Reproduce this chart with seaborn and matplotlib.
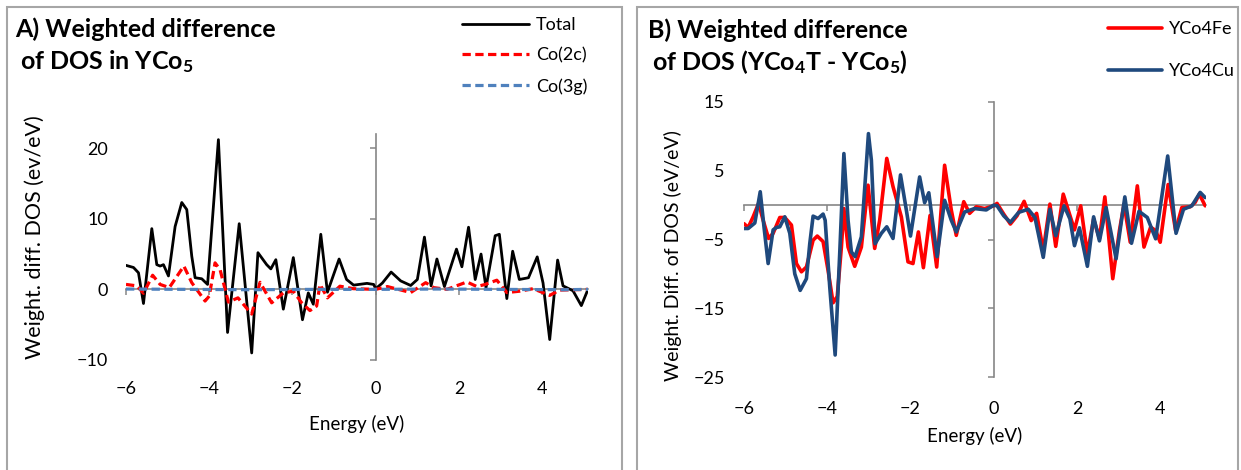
import matplotlib
matplotlib.use("Agg")
import matplotlib.pyplot as plt
from matplotlib.patches import Rectangle
import seaborn as sns

# ---------------- data ----------------
# Panel A : weighted difference of DOS in YCo5
e_total = [-6.00, -5.82, -5.70, -5.58, -5.38, -5.26, -5.18, -5.10, -4.98, -4.82, -4.66, -4.54,
           -4.42, -4.34, -4.18, -4.04, -3.78, -3.56, -3.28, -2.98, -2.83, -2.62, -2.52, -2.40,
           -2.22, -1.98, -1.76, -1.62, -1.50, -1.32, -1.16, -0.88, -0.70, -0.53, -0.21, -0.05,
           0.00, 0.16, 0.37, 0.60, 0.84, 1.00, 1.17, 1.33, 1.47, 1.65, 1.94, 2.07, 2.23, 2.39,
           2.53, 2.65, 2.87, 2.97, 3.15, 3.29, 3.45, 3.67, 3.88, 4.02, 4.18, 4.37, 4.50, 4.74,
           4.94, 5.10]
dos_total = [3.4, 3.1, 2.35, -2.0, 8.6, 3.5, 3.3, 3.5, 1.9, 8.9, 12.3, 11.3,
             4.7, 1.65, 1.5, 0.7, 21.2, -6.1, 9.3, -9.0, 5.2, 3.5, 2.9, 4.2,
             -2.8, 4.5, -4.3, -0.5, -2.1, 7.8, -0.4, 4.3, 1.4, 0.6, 0.85, 0.7,
             0.1, 0.9, 2.45, 1.2, 0.55, 1.4, 7.4, 0.5, 4.3, 0.4, 5.7, 3.2, 8.8, 1.4,
             5.0, 0.25, 7.6, 7.8, -1.3, 5.4, 1.4, 1.65, 4.6, 0.9, -7.1, 4.15, 0.5, -0.2,
             -2.3, 0.0]

e_co2c = [-6.00, -5.74, -5.58, -5.36, -5.18, -4.96, -4.61, -4.42, -4.10, -4.00, -3.86, -3.74,
          -3.54, -3.31, -2.98, -2.78, -2.50, -2.22, -1.98, -1.78, -1.58, -1.42, -1.34, -1.16,
          -0.86, -0.54, 0.00, 0.28, 0.84, 1.20, 1.39, 1.71, 2.19, 2.43, 2.63, 2.91, 3.15,
          3.47, 3.78, 4.18, 4.42, 5.10]
dos_co2c = [0.7, 0.5, -0.55, 2.0, 0.7, 0.25, 3.3, 0.95, -1.65, -0.95, 3.75, 2.8,
            -1.8, -1.2, -3.5, 1.0, -1.9, -0.5, -0.25, -1.9, -3.0, -2.35, 0.7, -1.2,
            0.45, 0.1, 0.0, 0.4, -0.45, 0.95, 0.25, 0.0, 1.05, 0.4, 0.7, 1.3, -0.45,
            -0.25, 0.1, -0.85, -0.1, 0.0]

e_co3g = [-6.0, -4.5, -3.0, -1.5, 0.0, 1.5, 3.0, 4.5, 5.1]
dos_co3g = [0.05, 0.0, -0.05, 0.0, 0.0, 0.05, 0.0, -0.05, 0.0]

# Panel B : weighted difference of DOS (YCo4T - YCo5)
e_fe = [-6.00, -5.90, -5.78, -5.65, -5.54, -5.41, -5.30, -5.14, -5.02, -4.86, -4.74, -4.62,
        -4.50, -4.34, -4.24, -4.10, -3.98, -3.86, -3.76, -3.66, -3.60, -3.50, -3.34, -3.18,
        -3.02, -2.86, -2.74, -2.57, -2.42, -2.22, -2.06, -1.94, -1.81, -1.69, -1.53, -1.37,
        -1.18, -1.02, -0.90, -0.72, -0.58, -0.42, -0.22, 0.00, 0.08, 0.24, 0.40, 0.56,
        0.73, 0.90, 1.03, 1.19, 1.35, 1.49, 1.67, 1.94, 2.09, 2.25, 2.40, 2.54, 2.67,
        2.86, 3.02, 3.13, 3.28, 3.45, 3.61, 3.77, 3.89, 4.00, 4.19, 4.37, 4.52, 4.72,
        4.84, 4.94, 5.08]
dos_fe = [-2.7, -3.25, -1.7, 0.25, -2.2, -4.85, -4.1, -1.8, -1.8, -2.9, -8.5, -9.7,
          -9.0, -5.1, -4.5, -5.3, -9.5, -14.2, -13.3, -6.1, -0.5, -6.1, -8.9, -6.1,
          2.9, -6.3, -2.2, 6.8, 2.7, -1.7, -8.25, -8.5, -3.9, -9.1, -1.5, -9.0,
          5.8, -0.7, -4.4, 0.5, -1.2, -0.25, -0.5, -0.1, 0.25, -1.3, -2.75, -1.55,
          0.55, -2.25, -1.2, -6.6, 0.15, -6.0, 1.6, -3.6, -0.1, -7.1, -2.0, -4.9, 1.2,
          -10.7, -3.7, 0.15, -5.4, 2.8, -6.1, -3.2, -3.7, -5.4, 3.0, -3.7, -0.35, -0.25,
          0.4, 1.6, -0.1]

e_cu = [-6.00, -5.90, -5.74, -5.61, -5.52, -5.42, -5.30, -5.22, -5.14, -5.02, -4.90, -4.78,
        -4.65, -4.50, -4.42, -4.34, -4.22, -4.10, -4.05, -3.94, -3.81, -3.70, -3.60, -3.50,
        -3.42, -3.33, -3.18, -3.01, -2.94, -2.85, -2.70, -2.57, -2.42, -2.24, -2.10, -2.00,
        -1.78, -1.66, -1.56, -1.36, -1.18, -1.02, -0.90, -0.70, -0.46, -0.18, 0.00, 0.08,
        0.24, 0.40, 0.60, 0.83, 0.99, 1.19, 1.35, 1.49, 1.69, 1.83, 1.94, 2.06, 2.25,
        2.40, 2.54, 2.70, 2.94, 3.15, 3.31, 3.49, 3.69, 3.89, 4.18, 4.38, 4.56, 4.76,
        4.96, 5.08]
dos_cu = [-3.4, -3.4, -2.6, 1.95, -3.15, -8.5, -3.6, -3.25, -3.15, -1.7, -4.1, -10.0,
          -12.4, -10.7, -5.6, -1.6, -1.95, -1.3, -2.2, -11.9, -21.8, -7.0, 7.5, -2.2,
          -6.8, -7.5, -4.6, 10.4, 6.55, -5.6, -4.1, -3.15, -4.85, 4.4, -0.7, -4.5,
          4.1, 0.35, 1.8, -7.5, 0.7, -2.2, -3.9, -1.0, -0.5, -0.7, 0.0, -0.1,
          -1.55, -2.5, -1.05, -0.6, -1.8, -7.6, -0.6, -4.45, -0.1, -2.0, -5.9, -3.3, -8.9,
          -1.7, -5.2, -0.35, -7.8, 1.2, -5.55, -0.9, -1.8, -4.9, 7.15, -4.1, -0.6, -0.1,
          1.85, 1.1]

x_ticks = [-6, -4, -2, 0, 2, 4]
yticks_a = [-10, 0, 10, 20]
yticks_b = [-25, -15, -5, 5, 15]

# ---------------- style ----------------
sns.set_theme(style="white")
plt.rcParams["font.family"] = ["Lato", "DejaVu Sans"]
plt.rcParams["mathtext.fontset"] = "custom"
plt.rcParams["mathtext.rm"] = "Lato"
plt.rcParams["mathtext.bf"] = "Lato:bold"
plt.rcParams["mathtext.it"] = "Lato:italic"

W, H = 1241, 470
fig = plt.figure(figsize=(W / 100, H / 100), dpi=100)
fig.patch.set_facecolor("white")

AXC = "#868686"
TKFS = 13     # tick labels
LGFS = 13     # legend
TFS = 18      # panel titles


def px_axes(left, top, right, bottom):
    return fig.add_axes([left / W, 1 - bottom / H, (right - left) / W, (bottom - top) / H])


def excel_axes(ax, ylim, yticks, ypad, xpad):
    ax.set_xlim(-6, 5.1)
    ax.set_ylim(*ylim)
    ax.set_facecolor("none")
    for s in ("top", "right"):
        ax.spines[s].set_visible(False)
    ax.spines["left"].set_position(("data", 0))
    ax.spines["bottom"].set_position(("data", 0))
    for s in ("left", "bottom"):
        ax.spines[s].set_color(AXC)
        ax.spines[s].set_linewidth(1.2)
        ax.spines[s].set_zorder(1)
    ax.set_xticks(x_ticks)
    ax.set_yticks(yticks)
    ax.tick_params(axis="both", direction="out", length=4, width=1.1, color=AXC,
                   labelleft=False, labelbottom=False, left=True, bottom=True)
    # tick labels in the "low" position (Excel style)
    sy = ax.secondary_yaxis("left")
    sy.set_yticks(yticks)
    sy.spines["left"].set_visible(False)
    sy.tick_params(length=0, pad=ypad, labelsize=TKFS, labelcolor="black")
    sx = ax.secondary_xaxis("bottom")
    sx.set_xticks(x_ticks)
    sx.spines["bottom"].set_visible(False)
    sx.tick_params(length=0, pad=xpad, labelsize=TKFS, labelcolor="black")
    ax.grid(False)


# panel frames
fig.add_artist(Rectangle((7 / W, -0.05), (622 - 7) / W, 1.05 - 7 / H, transform=fig.transFigure,
                         fill=False, edgecolor="#a6a6a6", linewidth=1.5))
fig.add_artist(Rectangle((637 / W, -0.05), (1238 - 637) / W, 1.05 - 7 / H, transform=fig.transFigure,
                         fill=False, edgecolor="#a6a6a6", linewidth=1.5))

# ---------------- panel A ----------------
axA = px_axes(126, 134, 588, 360)
excel_axes(axA, (-10, 22), yticks_a, ypad=13, xpad=15)
sns.lineplot(x=e_total, y=dos_total, ax=axA, color="black", linewidth=2.0,
             estimator=None, sort=False, label="Total", zorder=3)
sns.lineplot(x=e_co2c, y=dos_co2c, ax=axA, color="#FF0000", linewidth=2.3,
             estimator=None, sort=False, label="Co(2c)", zorder=4)
sns.lineplot(x=e_co3g, y=dos_co3g, ax=axA, color="#4F81BD", linewidth=2.3,
             estimator=None, sort=False, label="Co(3g)", zorder=5)
axA.lines[1].set_linestyle((0, (2.6, 1.4)))
axA.lines[2].set_linestyle((0, (2.6, 1.4)))
for ln in axA.lines:
    ln.set_solid_joinstyle("round")
    ln.set_dash_joinstyle("round")
axA.text(0.5, -0.245, "Energy (eV)", transform=axA.transAxes, fontsize=13.5,
         ha="center", va="top", color="black")
axA.text(-0.197, 0.545, "Weight. diff. DOS (ev/eV)", transform=axA.transAxes, fontsize=15.5,
         ha="center", va="center", rotation=90, color="black")
axA.legend(loc="upper left", bbox_to_anchor=(462 / W, 1 - 17 / H), bbox_transform=fig.transFigure,
           frameon=False, fontsize=LGFS, handlelength=3.7, labelspacing=0.8, borderpad=0,
           borderaxespad=0, handletextpad=0.4, labelcolor="black")

fig.text(15 / W, 1 - 29 / H, "A) Weighted difference", fontsize=TFS, fontweight="bold",
         ha="left", va="center", color="black")
fig.text(20 / W, 1 - 62 / H, r"of DOS in YCo$_\mathbf{5}$", fontsize=TFS, fontweight="bold",
         ha="left", va="center", color="black")

# ---------------- panel B ----------------
axB = px_axes(744, 102, 1206, 377)
excel_axes(axB, (-25, 15), yticks_b, ypad=14, xpad=17)
sns.lineplot(x=e_fe, y=dos_fe, ax=axB, color="#FF0000", linewidth=2.6,
             estimator=None, sort=False, label="YCo4Fe", zorder=3)
sns.lineplot(x=e_cu, y=dos_cu, ax=axB, color="#1F497D", linewidth=2.6,
             estimator=None, sort=False, label="YCo4Cu", zorder=4)
for ln in axB.lines:
    ln.set_solid_joinstyle("round")
axB.text(0.5, -0.183, "Energy (eV)", transform=axB.transAxes, fontsize=13.5,
         ha="center", va="top", color="black")
axB.text(-0.154, 0.44, "Weight. Diff. of DOS (eV/eV)", transform=axB.transAxes, fontsize=14,
         ha="center", va="center", rotation=90, color="black")
axB.legend(loc="upper left", bbox_to_anchor=(1108 / W, 1 - 21 / H), bbox_transform=fig.transFigure,
           frameon=False, fontsize=LGFS, handlelength=3.0, labelspacing=1.45, borderpad=0,
           borderaxespad=0, handletextpad=0.4, labelcolor="black")

fig.text(648 / W, 1 - 30 / H, "B) Weighted difference", fontsize=TFS, fontweight="bold",
         ha="left", va="center", color="black")
fig.text(652 / W, 1 - 62 / H, r"of DOS (YCo$_\mathbf{4}$T - YCo$_\mathbf{5}$)", fontsize=TFS,
         fontweight="bold", ha="left", va="center", color="black")

fig.savefig("out.png", dpi=100, facecolor="white")
